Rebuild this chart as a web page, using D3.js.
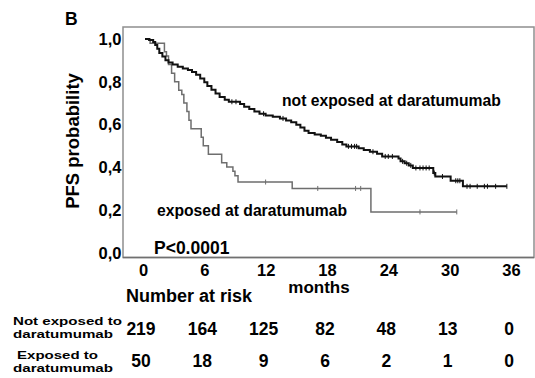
<!DOCTYPE html>
<html>
<head>
<meta charset="utf-8">
<script src="https://cdn.jsdelivr.net/npm/d3@7"></script>
<style>
  body { margin: 0; background: #fff; }
  svg { font-family: "Liberation Sans", Arial, sans-serif; font-weight: bold; }
</style>
</head>
<body>
<svg id="chart" width="535" height="378"></svg>
<script>
// not exposed at daratumumab (black)
const notExpTimes = [0, 0.4, 0.8, 1.0, 1.2, 1.4, 1.7, 2.0, 2.3, 2.7, 3.2, 3.7, 4.2, 4.6, 5.0, 5.4, 5.8, 6.1, 6.5, 6.9, 7.3, 7.8, 8.2,
  9.3, 9.7, 10.2, 10.7, 11.2, 11.8, 12.5, 13.2, 13.8, 14.3, 14.8, 15.2, 15.6, 16.0, 16.6, 17.2, 17.7, 18.2, 18.8, 19.3, 19.7,
  20.9, 21.4, 22.0, 22.7, 23.2, 24.8, 25.0, 25.4, 25.8, 26.2, 28.2, 28.4, 29.9, 31.1]
const notExpSurv = [1.0, 0.995, 0.986, 0.972, 0.954, 0.935, 0.918, 0.900, 0.890, 0.880, 0.870, 0.862, 0.855, 0.845, 0.832, 0.815, 0.797, 0.780, 0.762, 0.745, 0.728, 0.715, 0.706,
  0.695, 0.683, 0.672, 0.660, 0.650, 0.642, 0.636, 0.628, 0.618, 0.610, 0.598, 0.585, 0.570, 0.560, 0.553, 0.547, 0.538, 0.528, 0.518, 0.506, 0.497,
  0.488, 0.480, 0.472, 0.462, 0.450, 0.440, 0.427, 0.418, 0.408, 0.396, 0.372, 0.356, 0.336, 0.310]
const notExpEnd = 35.4
const notExpCensor = [8.5, 8.9, 11.6, 13.5, 19.9, 20.2, 20.5, 20.7, 22.3, 23.5, 23.8, 24.2, 25.2, 25.6, 26.0, 26.5, 26.9, 27.2, 27.5, 27.8,
  28.3, 29.1, 30.4, 30.6, 30.8, 31.5, 31.8, 32.5, 33.2, 33.5, 34.3, 35.4]

// exposed at daratumumab (grey)
const expTimes = [0, 0.5, 1.9, 2.1, 2.3, 2.6, 2.9, 3.3, 3.6, 3.8, 4.1, 4.3, 4.5, 5.5, 5.7, 6.2, 7.5, 8.0, 8.6, 8.8, 9.1, 14.4, 22.1]
const expSurv = [1.0, 0.98, 0.94, 0.92, 0.88, 0.84, 0.80, 0.76, 0.74, 0.70, 0.66, 0.62, 0.58, 0.54, 0.50, 0.46, 0.42, 0.40, 0.38, 0.36, 0.33, 0.30, 0.19]
const expEnd = 30.5
const expCensor = [11.8, 16.9, 20.6, 21.1, 26.9, 30.5]

const xTicks = [0, 6, 12, 18, 24, 30, 36]
const yTicks = [0, 0.2, 0.4, 0.6, 0.8, 1.0]
const riskNotExp = [219, 164, 125, 82, 48, 13, 0]
const riskExp = [50, 18, 9, 6, 2, 1, 0]

const svg = d3.select('#chart')
const frame = { left: 123, top: 27, right: 534, bottom: 257.5 }

const xScale = d3.scaleLinear().domain([0, 36]).range([145, 513])
const yScale = d3.scaleLinear().domain([0, 1]).range([252.5, 39])

// frame
svg.append('rect')
  .attr('x', frame.left).attr('y', frame.top)
  .attr('width', frame.right - frame.left).attr('height', frame.bottom - frame.top)
  .attr('fill', 'none').attr('stroke', '#8f8f8f').attr('stroke-width', 1.5)
svg.append('line')
  .attr('x1', frame.left).attr('x2', frame.right)
  .attr('y1', frame.bottom).attr('y2', frame.bottom)
  .attr('stroke', '#707070').attr('stroke-width', 1.5)

svg.append('text').attr('x', 65).attr('y', 24.5).style('font-size', '17.5px').text('B')

// y axis labels
svg.selectAll('.ytick').data(yTicks).enter().append('text')
  .attr('class', 'ytick')
  .attr('x', 121.5).attr('y', d => yScale(d) + 6)
  .attr('text-anchor', 'end').style('font-size', '16.5px')
  .text(d => d3.format('.1f')(d).replace('.', ','))

svg.append('text')
  .attr('transform', 'translate(78.5,141) rotate(-90)')
  .attr('text-anchor', 'middle').style('font-size', '18.5px')
  .text('PFS probability')

// x axis labels
svg.selectAll('.xtick').data(xTicks).enter().append('text')
  .attr('class', 'xtick')
  .attr('x', d => xScale(d) - 1.5).attr('y', 275.5)
  .attr('text-anchor', 'middle').style('font-size', '16.5px')
  .text(d => d)

svg.append('text').attr('x', 319).attr('y', 293).attr('text-anchor', 'middle')
  .style('font-size', '17px').text('months')
svg.append('text').attr('x', 189).attr('y', 302).attr('text-anchor', 'middle')
  .style('font-size', '18px').text('Number at risk')

function stepPoints(times, surv, end) {
  const pts = times.map((t, i) => [t, surv[i]])
  pts.push([end, surv[surv.length - 1]])
  return pts
}
function survAt(times, surv, t) {
  const i = d3.bisectRight(times, t) - 1
  return surv[Math.max(0, i)]
}

const line = d3.line()
  .x(d => xScale(d[0])).y(d => yScale(d[1]))
  .curve(d3.curveStepAfter)

const series = [
  { times: expTimes, surv: expSurv, end: expEnd, censor: expCensor, color: '#6e6e6e', w: 1.5 },
  { times: notExpTimes, surv: notExpSurv, end: notExpEnd, censor: notExpCensor, color: '#111', w: 2 }
]

series.forEach(s => {
  svg.append('path')
    .attr('d', line(stepPoints(s.times, s.surv, s.end)))
    .attr('fill', 'none').attr('stroke', s.color).attr('stroke-width', s.w)
  svg.selectAll(null).data(s.censor).enter().append('line')
    .attr('x1', d => xScale(d)).attr('x2', d => xScale(d))
    .attr('y1', d => yScale(survAt(s.times, s.surv, d)) - 2.5)
    .attr('y2', d => yScale(survAt(s.times, s.surv, d)) + 2.5)
    .attr('stroke', s.color).attr('stroke-width', 1)
})

svg.append('text').attr('x', 282).attr('y', 105.5).style('font-size', '15.7px').text('not exposed at daratumumab')
svg.append('text').attr('x', 157).attr('y', 215.5).style('font-size', '15.7px').text('exposed at daratumumab')
svg.append('text').attr('x', 154).attr('y', 254).style('font-size', '17.5px').text('P<0.0001')

// number at risk table
const rowLabel = (txt, x, y, len) => svg.append('text')
  .attr('x', x).attr('y', y).style('font-size', '11.5px')
  .attr('textLength', len).attr('lengthAdjust', 'spacingAndGlyphs')
  .text(txt)
rowLabel('Not exposed to', 13, 325, 109)
rowLabel('daratumumab', 13, 338, 100)
rowLabel('Exposed to', 17, 358.5, 81)
rowLabel('daratumumab', 13, 371.5, 100)

svg.selectAll('.risk1').data(riskNotExp).enter().append('text')
  .attr('class', 'risk1')
  .attr('x', (d, i) => xScale(xTicks[i]) - 4).attr('y', 334.5)
  .attr('text-anchor', 'middle').style('font-size', '17.5px').text(d => d)
svg.selectAll('.risk2').data(riskExp).enter().append('text')
  .attr('class', 'risk2')
  .attr('x', (d, i) => xScale(xTicks[i]) - 4).attr('y', 366.5)
  .attr('text-anchor', 'middle').style('font-size', '17.5px').text(d => d)
</script>
</body>
</html>
